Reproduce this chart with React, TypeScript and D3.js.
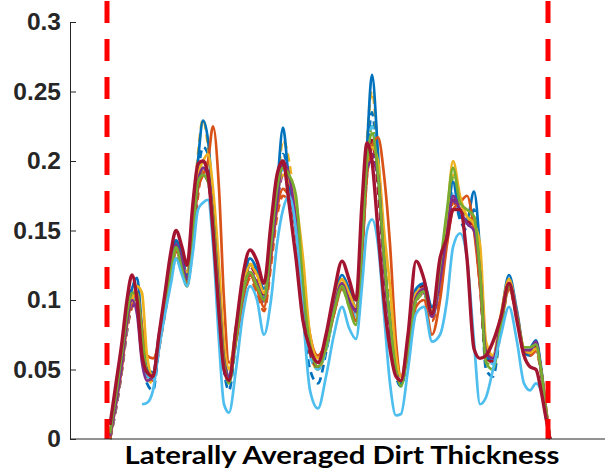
import { useEffect, useRef } from 'react';
import * as d3 from 'd3';

// lateral position (mm from left edge of the strip)
const positions = [
  2, 8, 14, 19, 24, 29, 34, 39, 45, 51,
  57, 63, 68, 74, 79, 85, 90, 95, 100, 105,
  111, 116, 121, 128, 135, 142, 149, 156, 163, 169,
  175, 181, 188, 195, 202, 210, 218, 226, 234, 241,
  248, 254, 259, 264, 270, 276, 282, 288, 293, 300,
  308, 316, 324, 332, 339, 345, 352, 359, 366, 372,
  378, 385, 393, 401, 409, 416, 422, 428, 433, 438,
  442,
];

const edges = [-1, 440];
const yTicks = [0, 0.05, 0.1, 0.15, 0.2, 0.25, 0.3];
const xLabel = 'Laterally Averaged Dirt Thickness';

const blueDash = [
  0.0, 0.022, 0.05, 0.078, 0.098, 0.108, 0.07, 0.04, 0.035, 0.065,
  0.092, 0.12, 0.138, 0.125, 0.115, 0.15, 0.19, 0.21, 0.205, 0.16,
  0.1, 0.05, 0.035, 0.07, 0.105, 0.125, 0.12, 0.1, 0.135, 0.175,
  0.205, 0.19, 0.155, 0.09, 0.05, 0.04, 0.062, 0.092, 0.112, 0.1,
  0.09, 0.14, 0.2, 0.235, 0.19, 0.125, 0.08, 0.045, 0.038, 0.062,
  0.1, 0.108, 0.09, 0.112, 0.145, 0.175, 0.158, 0.15, 0.165, 0.12,
  0.05, 0.045, 0.08, 0.11, 0.09, 0.062, 0.06, 0.065, 0.05, 0.02,
  0.0,
];
const orangeDash = [
  0.0, 0.022, 0.05, 0.078, 0.095, 0.1, 0.075, 0.05, 0.042, 0.065,
  0.09, 0.115, 0.13, 0.12, 0.11, 0.14, 0.175, 0.195, 0.19, 0.16,
  0.11, 0.06, 0.045, 0.072, 0.1, 0.115, 0.105, 0.092, 0.125, 0.16,
  0.175, 0.17, 0.15, 0.1, 0.065, 0.052, 0.065, 0.09, 0.108, 0.098,
  0.088, 0.135, 0.19, 0.215, 0.19, 0.135, 0.09, 0.05, 0.04, 0.062,
  0.098, 0.105, 0.085, 0.108, 0.142, 0.17, 0.165, 0.16, 0.155, 0.12,
  0.06, 0.055, 0.08, 0.108, 0.086, 0.062, 0.06, 0.063, 0.048, 0.02,
  0.0,
];
const yellowDash = [
  0.0, 0.025, 0.055, 0.085, 0.105, 0.1, 0.07, 0.045, 0.04, 0.07,
  0.095, 0.12, 0.14, 0.128, 0.12, 0.16, 0.205, 0.23, 0.21, 0.165,
  0.11, 0.06, 0.042, 0.075, 0.11, 0.126, 0.12, 0.104, 0.14, 0.178,
  0.215, 0.2, 0.16, 0.1, 0.062, 0.05, 0.066, 0.094, 0.114, 0.102,
  0.092, 0.15, 0.215, 0.25, 0.205, 0.135, 0.088, 0.05, 0.042, 0.066,
  0.104, 0.11, 0.092, 0.116, 0.15, 0.19, 0.17, 0.155, 0.16, 0.125,
  0.06, 0.055, 0.085, 0.112, 0.09, 0.064, 0.062, 0.066, 0.048, 0.02,
  0.0,
];
const purpleDash = [
  0.0, 0.024, 0.052, 0.08, 0.096, 0.095, 0.065, 0.045, 0.044, 0.07,
  0.092, 0.118, 0.136, 0.124, 0.112, 0.145, 0.18, 0.19, 0.185, 0.155,
  0.1, 0.055, 0.043, 0.072, 0.102, 0.118, 0.11, 0.098, 0.132, 0.168,
  0.19, 0.18, 0.15, 0.098, 0.062, 0.052, 0.066, 0.092, 0.11, 0.1,
  0.09, 0.138, 0.19, 0.205, 0.185, 0.128, 0.085, 0.05, 0.042, 0.064,
  0.1, 0.105, 0.088, 0.112, 0.145, 0.172, 0.162, 0.155, 0.152, 0.118,
  0.06, 0.055, 0.083, 0.11, 0.088, 0.063, 0.062, 0.067, 0.049, 0.02,
  0.0,
];
const greenDash = [
  0.0, 0.028, 0.058, 0.086, 0.1, 0.1, 0.07, 0.046, 0.044, 0.07,
  0.094, 0.118, 0.135, 0.12, 0.11, 0.148, 0.182, 0.195, 0.188, 0.158,
  0.102, 0.056, 0.042, 0.074, 0.104, 0.118, 0.108, 0.098, 0.136, 0.172,
  0.2, 0.182, 0.16, 0.105, 0.064, 0.05, 0.064, 0.09, 0.108, 0.096,
  0.086, 0.138, 0.195, 0.225, 0.195, 0.13, 0.085, 0.048, 0.04, 0.064,
  0.1, 0.104, 0.088, 0.12, 0.158, 0.188, 0.165, 0.16, 0.156, 0.118,
  0.056, 0.052, 0.082, 0.11, 0.087, 0.064, 0.063, 0.066, 0.049, 0.02,
  0.0,
];
const lightBlueDash = [
  0.0, 0.024, 0.052, 0.08, 0.1, 0.102, 0.072, 0.046, 0.042, 0.068,
  0.092, 0.118, 0.136, 0.124, 0.112, 0.148, 0.185, 0.2, 0.192, 0.158,
  0.102, 0.055, 0.04, 0.072, 0.104, 0.12, 0.112, 0.1, 0.135, 0.172,
  0.195, 0.182, 0.152, 0.098, 0.06, 0.05, 0.064, 0.092, 0.11, 0.098,
  0.088, 0.14, 0.2, 0.225, 0.19, 0.128, 0.084, 0.047, 0.04, 0.064,
  0.1, 0.106, 0.088, 0.114, 0.148, 0.178, 0.162, 0.155, 0.155, 0.118,
  0.057, 0.054, 0.083, 0.11, 0.088, 0.063, 0.062, 0.066, 0.049, 0.02,
  0.0,
];
const redDash = [
  0.0, 0.03, 0.06, 0.09, 0.108, 0.105, 0.07, 0.048, 0.045, 0.072,
  0.098, 0.125, 0.142, 0.13, 0.118, 0.155, 0.19, 0.2, 0.195, 0.16,
  0.1, 0.055, 0.044, 0.076, 0.108, 0.124, 0.116, 0.104, 0.14, 0.178,
  0.198, 0.18, 0.15, 0.095, 0.062, 0.052, 0.068, 0.096, 0.116, 0.104,
  0.094, 0.148, 0.2, 0.215, 0.18, 0.125, 0.08, 0.046, 0.04, 0.068,
  0.108, 0.11, 0.09, 0.118, 0.15, 0.175, 0.165, 0.158, 0.15, 0.11,
  0.058, 0.056, 0.085, 0.112, 0.088, 0.064, 0.062, 0.066, 0.05, 0.02,
  0.0,
];

const blueSolid = [
  0.004, 0.03, 0.06, 0.088, 0.108, 0.116, 0.08, 0.05, 0.048, 0.075,
  0.1, 0.125, 0.143, 0.132, 0.118, 0.158, 0.2, 0.229, 0.215, 0.17,
  0.11, 0.062, 0.045, 0.08, 0.112, 0.13, 0.122, 0.108, 0.14, 0.18,
  0.224, 0.185, 0.16, 0.1, 0.068, 0.055, 0.068, 0.098, 0.118, 0.108,
  0.095, 0.148, 0.21, 0.262, 0.205, 0.13, 0.085, 0.048, 0.04, 0.068,
  0.108, 0.112, 0.095, 0.118, 0.152, 0.185, 0.16, 0.158, 0.178, 0.135,
  0.058, 0.058, 0.088, 0.118, 0.092, 0.066, 0.066, 0.071, 0.052, 0.022,
  0.0,
];
const orangeSolid = [
  0.0, 0.025, 0.052, 0.082, 0.1, 0.105, 0.08, 0.06, 0.058, 0.07,
  0.095, 0.12, 0.135, 0.125, 0.112, 0.145, 0.18, 0.19, 0.2, 0.225,
  0.18, 0.1, 0.055, 0.07, 0.1, 0.118, 0.108, 0.095, 0.13, 0.165,
  0.18, 0.175, 0.165, 0.115, 0.075, 0.06, 0.07, 0.09, 0.11, 0.098,
  0.085, 0.13, 0.19, 0.21, 0.217, 0.19, 0.14, 0.07, 0.045, 0.06,
  0.095, 0.1, 0.075, 0.1, 0.14, 0.165, 0.17, 0.175, 0.15, 0.11,
  0.065, 0.06, 0.082, 0.108, 0.088, 0.064, 0.062, 0.065, 0.05, 0.022,
  0.0,
];
const yellowSolid = [
  0.003, 0.028, 0.058, 0.09, 0.1, 0.11, 0.105, 0.06, 0.045, 0.07,
  0.095, 0.12, 0.138, 0.125, 0.12, 0.155, 0.19, 0.2, 0.205, 0.18,
  0.125, 0.07, 0.05, 0.08, 0.108, 0.125, 0.118, 0.105, 0.138, 0.175,
  0.19, 0.185, 0.17, 0.13, 0.075, 0.058, 0.07, 0.095, 0.115, 0.105,
  0.095, 0.145, 0.2, 0.21, 0.2, 0.15, 0.11, 0.06, 0.045, 0.07,
  0.105, 0.108, 0.09, 0.118, 0.16, 0.2, 0.175, 0.16, 0.155, 0.14,
  0.07, 0.06, 0.09, 0.115, 0.09, 0.065, 0.062, 0.065, 0.05, 0.022,
  0.0,
];
const purpleSolid = [
  0.002, 0.026, 0.055, 0.085, 0.1, 0.09, 0.055, 0.042, 0.045, 0.072,
  0.095, 0.12, 0.14, 0.128, 0.115, 0.15, 0.185, 0.195, 0.19, 0.16,
  0.105, 0.058, 0.045, 0.075, 0.105, 0.12, 0.112, 0.1, 0.135, 0.17,
  0.2, 0.19, 0.155, 0.1, 0.065, 0.055, 0.068, 0.095, 0.112, 0.1,
  0.092, 0.14, 0.195, 0.2, 0.19, 0.125, 0.082, 0.048, 0.042, 0.066,
  0.102, 0.108, 0.088, 0.114, 0.148, 0.175, 0.165, 0.155, 0.15, 0.12,
  0.062, 0.058, 0.085, 0.112, 0.09, 0.064, 0.064, 0.07, 0.05, 0.02,
  0.0,
];
const greenSolid = [
  0.004, 0.032, 0.062, 0.09, 0.105, 0.105, 0.075, 0.048, 0.045, 0.072,
  0.096, 0.12, 0.138, 0.122, 0.11, 0.15, 0.185, 0.19, 0.185, 0.16,
  0.1, 0.055, 0.04, 0.072, 0.105, 0.12, 0.11, 0.1, 0.14, 0.18,
  0.195, 0.19, 0.175, 0.11, 0.068, 0.052, 0.066, 0.092, 0.11, 0.095,
  0.082, 0.14, 0.2, 0.22, 0.19, 0.13, 0.085, 0.05, 0.038, 0.064,
  0.1, 0.106, 0.09, 0.125, 0.165, 0.195, 0.17, 0.165, 0.16, 0.12,
  0.055, 0.05, 0.082, 0.11, 0.088, 0.066, 0.066, 0.068, 0.05, 0.02,
  0.0,
];
const lightBlueSolid = [
  NaN, NaN, NaN, NaN, NaN, NaN, 0.025, 0.026, 0.035, 0.065,
  0.09, 0.112, 0.13, 0.118, 0.11, 0.135, 0.165, 0.17, 0.172, 0.14,
  0.07, 0.025, 0.019, 0.05, 0.09, 0.11, 0.1, 0.075, 0.1, 0.14,
  0.165, 0.175, 0.15, 0.09, 0.035, 0.022, 0.045, 0.075, 0.095, 0.08,
  0.072, 0.11, 0.15, 0.158, 0.14, 0.09, 0.04, 0.017, 0.018, 0.05,
  0.09, 0.095, 0.07, 0.075, 0.1, 0.138, 0.148, 0.13, 0.07, 0.025,
  0.03, 0.05, 0.075, 0.095, 0.07, 0.04, 0.035, 0.04, 0.035, 0.015,
  0.0,
];
const redSolid = [
  0.01, 0.04, 0.07, 0.1, 0.118, 0.1, 0.06, 0.048, 0.045, 0.075,
  0.105, 0.135, 0.15, 0.138, 0.125, 0.17, 0.198, 0.2, 0.19, 0.15,
  0.09, 0.05, 0.042, 0.08, 0.118, 0.136, 0.128, 0.112, 0.155, 0.19,
  0.2, 0.17, 0.13, 0.085, 0.065, 0.055, 0.075, 0.105, 0.128, 0.115,
  0.1, 0.17, 0.213, 0.2, 0.15, 0.1, 0.065, 0.045, 0.042, 0.075,
  0.128, 0.115, 0.09, 0.13, 0.145, 0.165, 0.165, 0.13, 0.065, 0.058,
  0.06, 0.07, 0.088, 0.112, 0.085, 0.06, 0.052, 0.05, 0.035, 0.015,
  0.0,
];

const series = [
  { values: blueDash, color: '#0072BD', dashed: true },
  { values: orangeDash, color: '#D95319', dashed: true },
  { values: yellowDash, color: '#EDB120', dashed: true },
  { values: purpleDash, color: '#7E2F8E', dashed: true },
  { values: greenDash, color: '#77AC30', dashed: true },
  { values: lightBlueDash, color: '#4DBEEE', dashed: true },
  { values: redDash, color: '#A2142F', dashed: true },
  { values: blueSolid, color: '#0072BD', dashed: false },
  { values: orangeSolid, color: '#D95319', dashed: false },
  { values: yellowSolid, color: '#EDB120', dashed: false },
  { values: purpleSolid, color: '#7E2F8E', dashed: false },
  { values: greenSolid, color: '#77AC30', dashed: false },
  { values: lightBlueSolid, color: '#4DBEEE', dashed: false },
  { values: redSolid, color: '#A2142F', dashed: false },
];

const App = () => {
  const svgRef = useRef<SVGSVGElement>(null);

  useEffect(() => {
    const svg = d3.select(svgRef.current);
    const width = 605;
    const height = 470;
    const margin = { top: 22, right: 0, bottom: 31, left: 70 };

    svg.selectAll('*').remove();

    const x = d3.scaleLinear()
      .domain([-38, 497])
      .range([margin.left, width - margin.right]);

    const y = d3.scaleLinear()
      .domain([0, 0.3])
      .range([height - margin.bottom, margin.top]);

    const line = d3.line<number>()
      .defined(d => !Number.isNaN(d))
      .x((_, i) => x(positions[i]))
      .y(d => y(d))
      .curve(d3.curveMonotoneX);

    // profiles
    svg.append('g')
      .selectAll('path')
      .data(series)
      .join('path')
      .attr('d', d => line(d.values))
      .attr('fill', 'none')
      .attr('stroke', d => d.color)
      .attr('stroke-width', d => (d.color === '#A2142F' && !d.dashed ? 3.4 : 2.7))
      .attr('stroke-dasharray', d => (d.dashed ? '8,5' : null))
      .attr('stroke-linejoin', 'round');

    // strip edges
    svg.append('g')
      .selectAll('line')
      .data(edges)
      .join('line')
      .attr('x1', d => x(d))
      .attr('x2', d => x(d))
      .attr('y1', 0)
      .attr('y2', y(0))
      .attr('stroke', '#FF0000')
      .attr('stroke-width', 5)
      .attr('stroke-dasharray', '22,16')
      .attr('stroke-dashoffset', -1);

    // axes
    const axisColor = '#262626';
    svg.append('line')
      .attr('x1', margin.left)
      .attr('x2', width)
      .attr('y1', y(0))
      .attr('y2', y(0))
      .attr('stroke', axisColor)
      .attr('stroke-width', 1);

    const yAxis = svg.append('g')
      .attr('transform', `translate(${margin.left},0)`)
      .call(d3.axisLeft(y).tickValues(yTicks).tickSize(-6).tickPadding(9)
        .tickFormat(d => String(+d)));
    yAxis.select('.domain').attr('stroke', axisColor);
    yAxis.selectAll('.tick line').attr('stroke', axisColor);
    yAxis.selectAll('.tick text')
      .attr('fill', axisColor)
      .style('font-family', '"Liberation Sans", Arial, sans-serif')
      .style('font-size', '24.5px')
      .style('font-weight', 'bold');

    svg.append('text')
      .attr('x', 342)
      .attr('y', 464)
      .attr('text-anchor', 'middle')
      .attr('textLength', 435)
      .attr('lengthAdjust', 'spacingAndGlyphs')
      .style('font-family', 'Lato, "Open Sans", sans-serif')
      .style('font-size', '25px')
      .style('font-weight', 'bold')
      .attr('fill', '#000')
      .text(xLabel);
  }, []);

  return (
    <svg ref={svgRef} width="605" height="470"
      style={{ position: 'absolute', left: 0, top: 0, background: '#fff' }}></svg>
  );
};

export default App;
